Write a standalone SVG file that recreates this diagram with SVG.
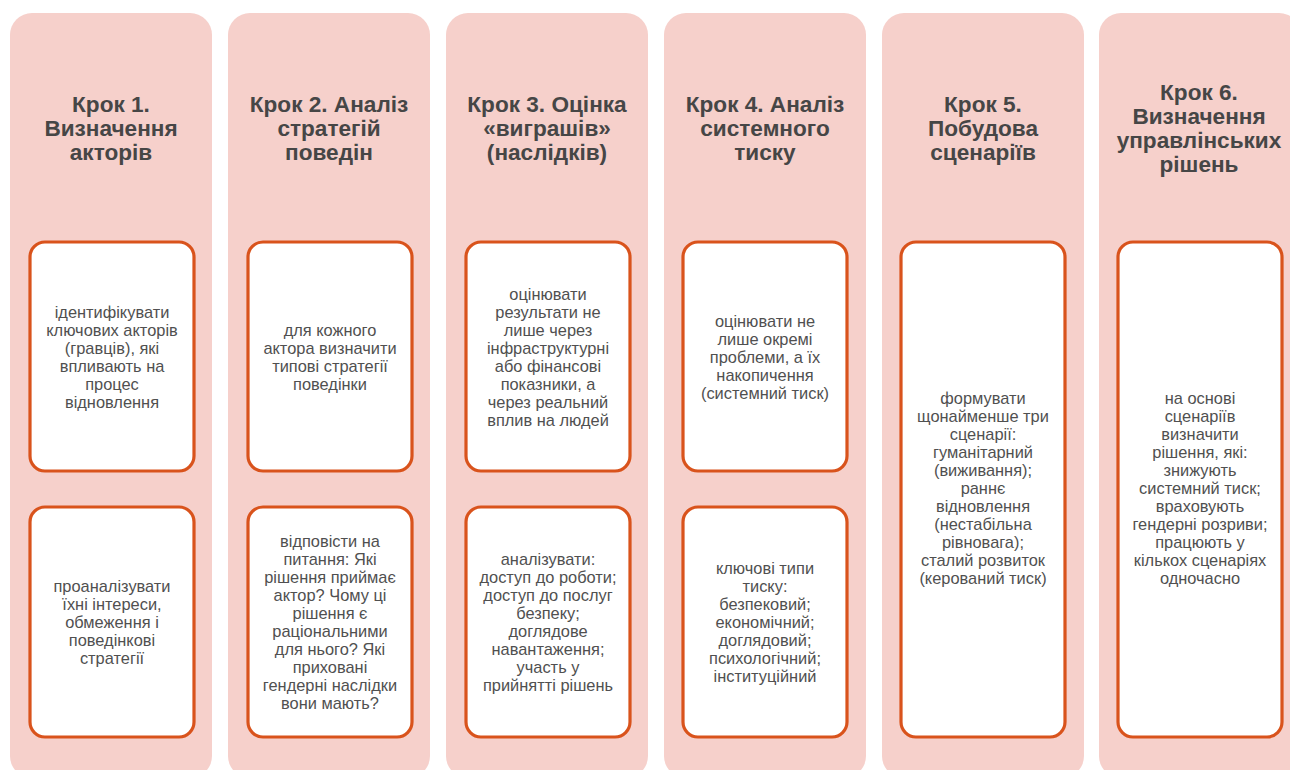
<svg xmlns="http://www.w3.org/2000/svg" width="1290" height="770" viewBox="0 0 1290 770">
<style>
.col{fill:#F6D0CB;}
.box{fill:#FFFFFF;stroke:#D9531C;stroke-width:3.2;}
.hd{font-family:"Liberation Sans",Arial,sans-serif;font-weight:bold;font-size:22.6px;fill:#464646;text-anchor:middle;}
.tx{font-family:"Liberation Sans",Arial,sans-serif;font-size:16.4px;fill:#505050;text-anchor:middle;}
</style>
<rect width="1290" height="770" fill="#FFFFFF"/>
<g id="step1">
<rect class="col" x="10" y="13" width="202" height="765" rx="22"/>
<text class="hd"><tspan x="111" y="112">Крок 1.</tspan><tspan x="111" y="136">Визначення</tspan><tspan x="111" y="160">акторів</tspan></text>
<rect class="box" x="30" y="242" width="164" height="229" rx="15"/>
<text class="tx"><tspan x="112" y="317.5">ідентифікувати</tspan><tspan x="112" dy="18">ключових акторів</tspan><tspan x="112" dy="18">(гравців), які</tspan><tspan x="112" dy="18">впливають на</tspan><tspan x="112" dy="18">процес</tspan><tspan x="112" dy="18">відновлення</tspan></text>
<rect class="box" x="30" y="507" width="164" height="230" rx="15"/>
<text class="tx"><tspan x="112" y="592">проаналізувати</tspan><tspan x="112" dy="18">їхні інтереси,</tspan><tspan x="112" dy="18">обмеження і</tspan><tspan x="112" dy="18">поведінкові</tspan><tspan x="112" dy="18">стратегії</tspan></text>
</g>
<g id="step2">
<rect class="col" x="228" y="13" width="202" height="765" rx="22"/>
<text class="hd"><tspan x="329" y="112">Крок 2. Аналіз</tspan><tspan x="329" y="136">стратегій</tspan><tspan x="329" y="160">поведін</tspan></text>
<rect class="box" x="248" y="242" width="164" height="229" rx="15"/>
<text class="tx"><tspan x="330" y="335.5">для кожного</tspan><tspan x="330" dy="18">актора визначити</tspan><tspan x="330" dy="18">типові стратегії</tspan><tspan x="330" dy="18">поведінки</tspan></text>
<rect class="box" x="248" y="507" width="164" height="230" rx="15"/>
<text class="tx"><tspan x="330" y="547">відповісти на</tspan><tspan x="330" dy="18">питання: Які</tspan><tspan x="330" dy="18">рішення приймає</tspan><tspan x="330" dy="18">актор? Чому ці</tspan><tspan x="330" dy="18">рішення є</tspan><tspan x="330" dy="18">раціональними</tspan><tspan x="330" dy="18">для нього? Які</tspan><tspan x="330" dy="18">приховані</tspan><tspan x="330" dy="18">гендерні наслідки</tspan><tspan x="330" dy="18">вони мають?</tspan></text>
</g>
<g id="step3">
<rect class="col" x="446" y="13" width="202" height="765" rx="22"/>
<text class="hd"><tspan x="547" y="112">Крок 3. Оцінка</tspan><tspan x="547" y="136">«виграшів»</tspan><tspan x="547" y="160">(наслідків)</tspan></text>
<rect class="box" x="466" y="242" width="164" height="229" rx="15"/>
<text class="tx"><tspan x="548" y="299.5">оцінювати</tspan><tspan x="548" dy="18">результати не</tspan><tspan x="548" dy="18">лише через</tspan><tspan x="548" dy="18">інфраструктурні</tspan><tspan x="548" dy="18">або фінансові</tspan><tspan x="548" dy="18">показники, а</tspan><tspan x="548" dy="18">через реальний</tspan><tspan x="548" dy="18">вплив на людей</tspan></text>
<rect class="box" x="466" y="507" width="164" height="230" rx="15"/>
<text class="tx"><tspan x="548" y="565">аналізувати:</tspan><tspan x="548" dy="18">доступ до роботи;</tspan><tspan x="548" dy="18">доступ до послуг</tspan><tspan x="548" dy="18">безпеку;</tspan><tspan x="548" dy="18">доглядове</tspan><tspan x="548" dy="18">навантаження;</tspan><tspan x="548" dy="18">участь у</tspan><tspan x="548" dy="18">прийнятті рішень</tspan></text>
</g>
<g id="step4">
<rect class="col" x="664" y="13" width="202" height="765" rx="22"/>
<text class="hd"><tspan x="765" y="112">Крок 4. Аналіз</tspan><tspan x="765" y="136">системного</tspan><tspan x="765" y="160">тиску</tspan></text>
<rect class="box" x="683" y="242" width="164" height="229" rx="15"/>
<text class="tx"><tspan x="765" y="326.5">оцінювати не</tspan><tspan x="765" dy="18">лише окремі</tspan><tspan x="765" dy="18">проблеми, а їх</tspan><tspan x="765" dy="18">накопичення</tspan><tspan x="765" dy="18">(системний тиск)</tspan></text>
<rect class="box" x="683" y="507" width="164" height="230" rx="15"/>
<text class="tx"><tspan x="765" y="574">ключові типи</tspan><tspan x="765" dy="18">тиску:</tspan><tspan x="765" dy="18">безпековий;</tspan><tspan x="765" dy="18">економічний;</tspan><tspan x="765" dy="18">доглядовий;</tspan><tspan x="765" dy="18">психологічний;</tspan><tspan x="765" dy="18">інституційний</tspan></text>
</g>
<g id="step5">
<rect class="col" x="882" y="13" width="202" height="765" rx="22"/>
<text class="hd"><tspan x="983" y="112">Крок 5.</tspan><tspan x="983" y="136">Побудова</tspan><tspan x="983" y="160">сценаріїв</tspan></text>
<rect class="box" x="901" y="242" width="164" height="495" rx="15"/>
<text class="tx"><tspan x="983" y="404">формувати</tspan><tspan x="983" dy="18">щонайменше три</tspan><tspan x="983" dy="18">сценарії:</tspan><tspan x="983" dy="18">гуманітарний</tspan><tspan x="983" dy="18">(виживання);</tspan><tspan x="983" dy="18">раннє</tspan><tspan x="983" dy="18">відновлення</tspan><tspan x="983" dy="18">(нестабільна</tspan><tspan x="983" dy="18">рівновага);</tspan><tspan x="983" dy="18">сталий розвиток</tspan><tspan x="983" dy="18">(керований тиск)</tspan></text>
</g>
<g id="step6">
<rect class="col" x="1099" y="13" width="202" height="765" rx="22"/>
<text class="hd"><tspan x="1199" y="100">Крок 6.</tspan><tspan x="1199" y="124">Визначення</tspan><tspan x="1199" y="148">управлінських</tspan><tspan x="1199" y="172">рішень</tspan></text>
<rect class="box" x="1118" y="242" width="164" height="495" rx="15"/>
<text class="tx"><tspan x="1200" y="404">на основі</tspan><tspan x="1200" dy="18">сценаріїв</tspan><tspan x="1200" dy="18">визначити</tspan><tspan x="1200" dy="18">рішення, які:</tspan><tspan x="1200" dy="18">знижують</tspan><tspan x="1200" dy="18">системний тиск;</tspan><tspan x="1200" dy="18">враховують</tspan><tspan x="1200" dy="18">гендерні розриви;</tspan><tspan x="1200" dy="18">працюють у</tspan><tspan x="1200" dy="18">кількох сценаріях</tspan><tspan x="1200" dy="18">одночасно</tspan></text>
</g>
<g id="connectors"></g>
</svg>
